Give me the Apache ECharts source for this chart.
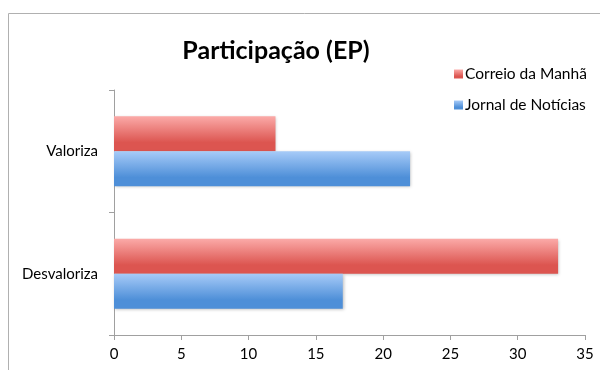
<!DOCTYPE html>
<html>
<head>
<meta charset="utf-8">
<script src="https://cdn.jsdelivr.net/npm/echarts@6/dist/echarts.min.js"></script>
<style>
  html, body { margin: 0; padding: 0; background: #fff; }
  #chart { width: 600px; height: 370px; }
</style>
</head>
<body>
<div id="chart"></div>
<script>
// categories go bottom-up on a horizontal bar chart
var categories = ['Desvaloriza', 'Valoriza'];
var correioValues = [33, 12];
var jornalValues = [17, 22];
var xTicks = { min: 0, max: 35, interval: 5 };

function grad(top, bottom) {
    return new echarts.graphic.LinearGradient(0, 0, 0, 1, [
        { offset: 0, color: top },
        { offset: 0.75, color: bottom },
        { offset: 1, color: bottom }
    ]);
}

var chart = echarts.init(document.getElementById('chart'));
chart.setOption({
    animation: false,
    textStyle: { fontFamily: 'Lato, "Open Sans", sans-serif' },
    graphic: [{
        type: 'rect',
        shape: { x: 8.5, y: 13.5, width: 640, height: 400 },
        style: { fill: 'none', stroke: '#b0b0b0', lineWidth: 1 },
        silent: true
    }],
    title: {
        text: 'Participação (EP)',
        left: 271,
        textAlign: 'center',
        top: 33,
        textStyle: { fontSize: 25, fontWeight: 'bold', color: '#000', fontFamily: 'Lato, "Open Sans", sans-serif' }
    },
    legend: {
        data: ['Correio da Manhã', 'Jornal de Notícias'],
        orient: 'vertical',
        left: 449,
        top: 61,
        itemWidth: 9,
        itemHeight: 9,
        itemGap: 15,
        icon: 'rect',
        textStyle: { fontSize: 15.5, color: '#000', padding: [0, 0, 0, -3] }
    },
    grid: { left: 114, right: 15, top: 90, bottom: 35, containLabel: false },
    xAxis: {
        type: 'value',
        min: xTicks.min,
        max: xTicks.max,
        interval: xTicks.interval,
        splitLine: { show: false },
        axisLine: { show: true, lineStyle: { color: '#a0a0a0' } },
        axisTick: { show: true, length: 5, lineStyle: { color: '#a0a0a0' } },
        axisLabel: { color: '#000', fontSize: 15, margin: 12 }
    },
    yAxis: {
        type: 'category',
        data: categories,
        axisLine: { show: true, lineStyle: { color: '#a0a0a0' } },
        axisTick: { show: true, length: 5, lineStyle: { color: '#a0a0a0' } },
        axisLabel: { color: '#000', fontSize: 15, margin: 16 }
    },
    series: [{
        name: 'Correio da Manhã',
        type: 'bar',
        data: correioValues,
        barGap: '0%',
        barCategoryGap: '43%',
        itemStyle: {
            color: grad('#fbaaa8', '#dc5550'),
            shadowColor: 'rgba(0,0,0,0.25)', shadowBlur: 3, shadowOffsetX: 1, shadowOffsetY: 1
        }
    }, {
        name: 'Jornal de Notícias',
        type: 'bar',
        data: jornalValues,
        barGap: '0%',
        barCategoryGap: '43%',
        itemStyle: {
            color: grad('#a7cbf8', '#4e8fd8'),
            shadowColor: 'rgba(0,0,0,0.25)', shadowBlur: 3, shadowOffsetX: 1, shadowOffsetY: 1
        }
    }]
});
</script>
</body>
</html>
